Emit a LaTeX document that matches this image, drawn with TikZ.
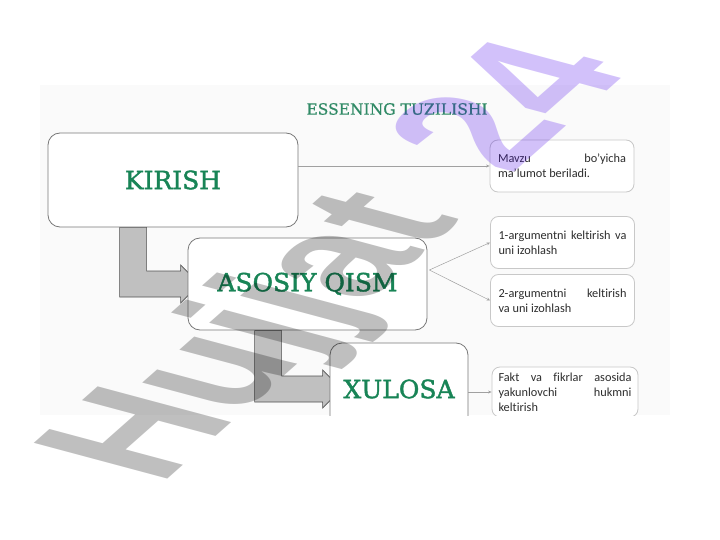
\documentclass[tikz,border=0pt]{standalone}
\usepackage{fontspec}
\setmainfont{Carlito}[Ligatures={TeX,NoCommon}]
\newfontfamily\headfont[FakeBold=1.6]{DejaVu Serif}
\newfontfamily\titlefont[FakeBold=0.6]{DejaVu Serif}
\newfontfamily\markfont{Liberation Sans}
\usetikzlibrary{arrows.meta,calc,backgrounds}

\definecolor{headgreen}{RGB}{24,132,86}
\definecolor{titlegreen}{RGB}{48,138,102}
\definecolor{boxline}{RGB}{120,120,120}
\definecolor{noteline}{RGB}{200,200,200}
\definecolor{notetext}{RGB}{45,45,45}
\definecolor{linkgray}{RGB}{160,160,160}
\definecolor{elbowfill}{RGB}{192,192,192}
\definecolor{elbowline}{RGB}{80,80,80}
\definecolor{markviolet}{rgb}{0.30,0.03,0.92}

\tikzset{
  stage/.style={draw=boxline, fill=white, rounded corners=12pt, line width=0.8pt,
    font=\headfont\fontsize{25}{25}\selectfont, text=headgreen},
  note/.style={draw=noteline, fill=white, rounded corners=8pt, line width=0.8pt,
    minimum width=144pt, minimum height=52pt, text width=128pt, inner sep=0pt,
    align=justify, font=\fontsize{12.3}{15}\selectfont, text=notetext},
  link/.style={draw=linkgray, line width=0.5pt, -{Stealth[length=3.5pt,width=3pt]}},
  elbow/.style={fill=elbowfill, draw=elbowline, line width=0.7pt},
}

% #1 = top left corner of the shaft, #2 = point on the edge of the next box
\newcommand{\elbow}[2]{%
  \draw[elbow] (#1) -- ++(27,0) |- ($(#2)+(-7,-13)$) -- ++(0,-6) -- ($(#2)+(12,0)$)
    -- ($(#2)+(-7,19)$) -- ++(0,-6) -| (#1) -- cycle;}

\begin{document}
\begin{tikzpicture}[x=1pt,y=-1pt]
\useasboundingbox (0,0) rectangle (720,540);
\begin{scope}
\clip (40,85) rectangle (670,415);
%
\node[stage, minimum width=250pt, minimum height=94pt] (kirish) at (173,180) {KIRISH};
\node[stage, minimum width=239pt, minimum height=92pt] (asosiy) at (307.5,284) {ASOSIY QISM};
\node[stage, minimum width=138pt, minimum height=92pt] (xulosa) at (399,389) {XULOSA};
%
\coordinate (e1) at ($(kirish.south west)+(72,0)$);
\coordinate (e2) at ($(asosiy.south west)+(67,0)$);
\begin{scope}[on background layer]
\fill[black!2] (40,85) rectangle (670,415);
\elbow{e1}{asosiy.west}
\elbow{e2}{xulosa.west}
\end{scope}
%
\node[note] (mavzu) at (562,166) {Mavzu bo’yicha\linebreak ma’lumot beriladi.};
\node[note] (arg1) at (562.5,242.5) {1-argumentni keltirish va\linebreak uni izohlash};
\node[note] (arg2) at (562.5,300.5) {2-argumentni keltirish\linebreak va uni izohlash};
\node[note, minimum width=146pt, minimum height=50pt, text width=133pt] (fakt) at (565,392)
  {Fakt va fikrlar asosida\linebreak yakunlovchi hukmni\linebreak keltirish};
%
\draw[link] (kirish.east |- mavzu.west) -- (mavzu.west);
\coordinate (fork) at ($(asosiy.east)+(2,-14)$);
\draw[link] (fork) -- (arg1.west);
\draw[link] (fork) -- (arg2.west);
\draw[link] (xulosa.east |- fakt.west) -- (fakt.west);
%
\node[font=\titlefont\fontsize{15.5}{15.5}\selectfont, text=titlegreen] (title) at (397,109) {ESSENING TUZILISHI};
\end{scope}
%
\begin{scope}[shift={(160,486)}, cm={1.086,0.961,-1.941,0.520,(0,0)}]
\node[transform shape, anchor=base west, inner sep=0pt, text opacity=0.25,
  font=\markfont\bfseries\fontsize{100}{100}\selectfont] (mark) at (0,0)
  {Hujjat\hspace{0.45em}\textcolor{markviolet}{24}};
\end{scope}
\end{tikzpicture}
\end{document}
